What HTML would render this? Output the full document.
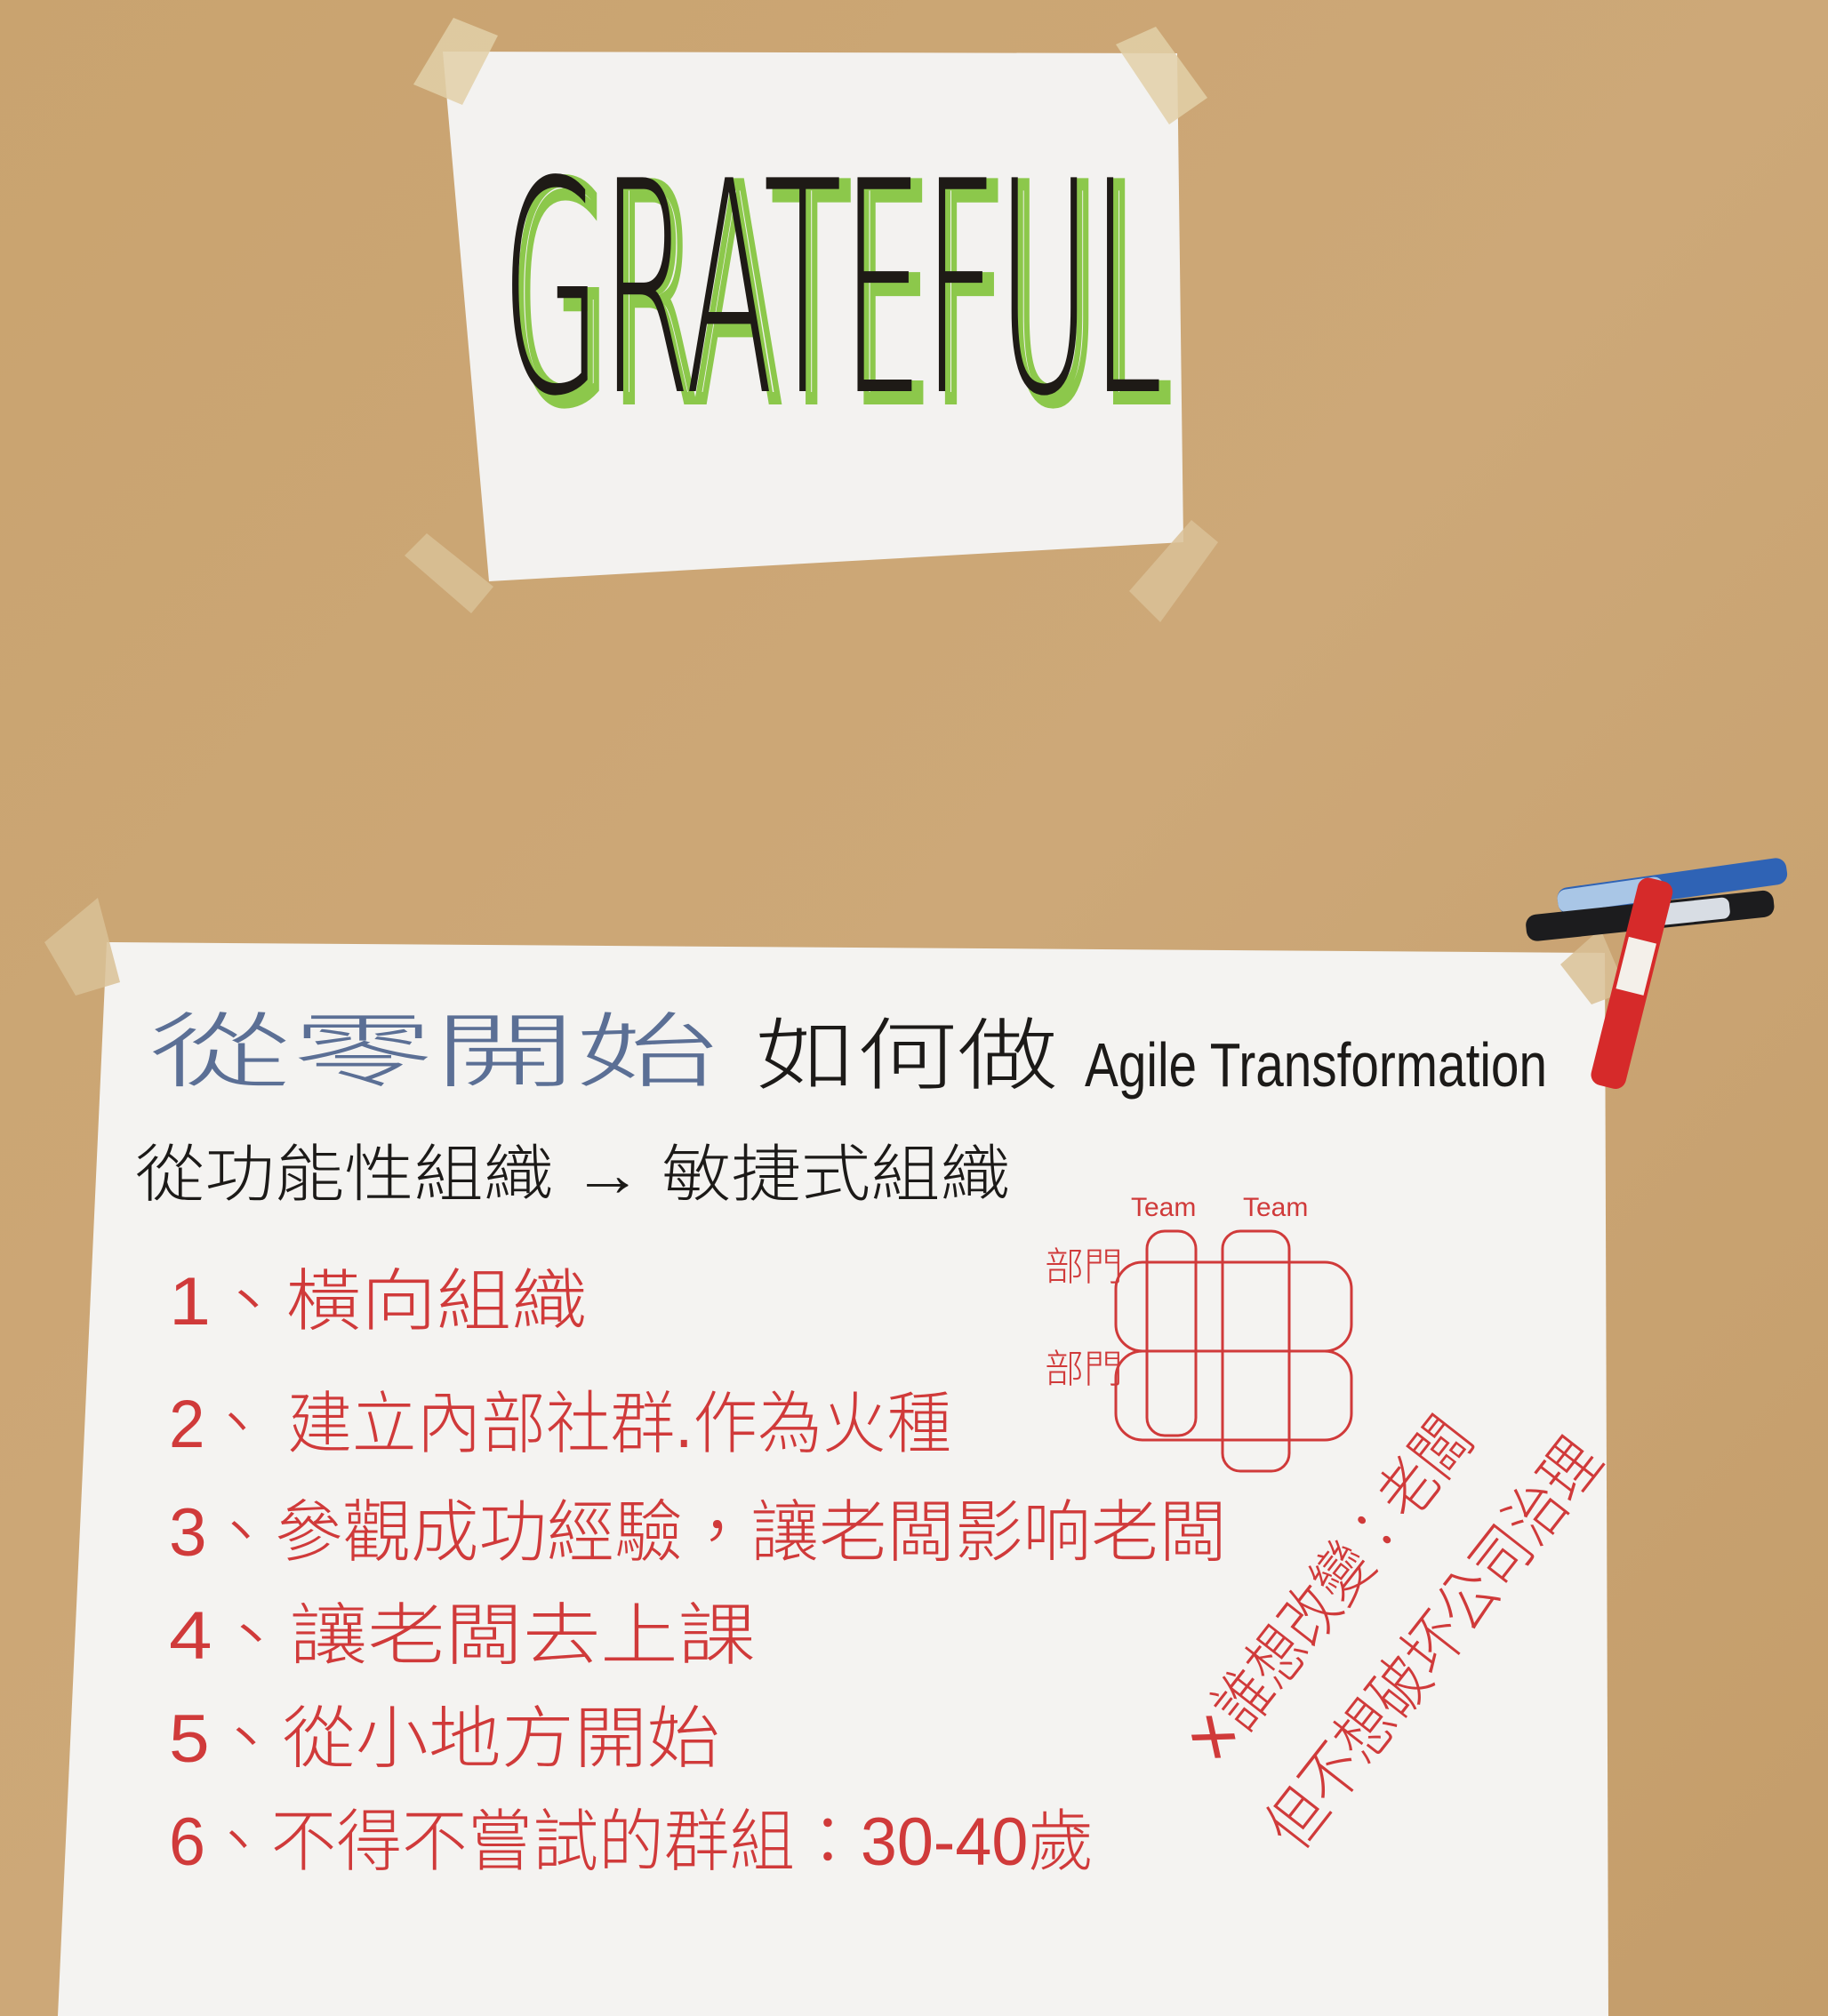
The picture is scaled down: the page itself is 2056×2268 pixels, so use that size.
<!DOCTYPE html>
<html><head><meta charset="utf-8">
<style>
html,body{margin:0;padding:0;background:#c7a170;}
svg{display:block}
.cjk{font-family:"Liberation Sans","Noto Sans CJK TC",sans-serif;font-weight:300;}
</style></head>
<body>
<svg width="2056" height="2268" viewBox="0 0 2056 2268" xmlns="http://www.w3.org/2000/svg">
  <defs>
    <linearGradient id="wall" x1="0" y1="0" x2="1" y2="1">
      <stop offset="0" stop-color="#c9a36f"/>
      <stop offset="0.5" stop-color="#cda878"/>
      <stop offset="1" stop-color="#c49d6a"/>
    </linearGradient>
  </defs>
  <rect width="2056" height="2268" fill="url(#wall)"/>

  <g>
    <polygon points="498,58 1324,60 1331,610 550,654" fill="#f3f2f0"/>
    <polygon points="465,95 510,20 560,40 520,118" fill="#e2d0a8" opacity="0.85"/>
    <polygon points="1255,50 1300,30 1358,110 1315,140" fill="#e2d0a8" opacity="0.85"/>
    <polygon points="455,625 480,600 555,660 530,690" fill="#d9c196" opacity="0.85"/>
    <polygon points="1270,665 1340,585 1370,610 1305,700" fill="#d9c196" opacity="0.85"/>
    <text x="574" y="448" font-family="DejaVu Sans, sans-serif" font-weight="200" font-size="330" fill="none" stroke="#8cc84b" stroke-width="14" textLength="744" lengthAdjust="spacingAndGlyphs">GRATEFUL</text>
    <text x="564" y="440" font-family="DejaVu Sans, sans-serif" font-weight="200" font-size="330" fill="#1e1a16" textLength="744" lengthAdjust="spacingAndGlyphs">GRATEFUL</text>
  </g>

  <g>
    <polygon points="120,1060 1805,1072 1809,2268 65,2268" fill="#f4f3f1"/>
    <polygon points="50,1060 110,1010 135,1105 85,1120" fill="#d9c196" opacity="0.85"/>
    <polygon points="1755,1085 1800,1045 1830,1115 1790,1130" fill="#d9c196" opacity="0.85"/>

    <text class="cjk" x="168" y="1215" font-size="92" fill="#5b6f95" textLength="640" lengthAdjust="spacingAndGlyphs">從零開始</text>
    <text class="cjk" x="850" y="1218" font-size="88" fill="#1c1a18" textLength="340" lengthAdjust="spacingAndGlyphs">如何做</text>
    <text x="1220" y="1222" font-family="Liberation Sans, sans-serif" font-size="70" fill="#1c1a18" textLength="520" lengthAdjust="spacingAndGlyphs">Agile Transformation</text>

    <text class="cjk" x="152" y="1345" font-size="70" fill="#1c1a18" textLength="984" lengthAdjust="spacingAndGlyphs">從功能性組織 → 敏捷式組織</text>

    <g fill="#d03a3a" class="cjk">
      <text x="190" y="1490" font-size="76" textLength="470" lengthAdjust="spacingAndGlyphs">1、橫向組織</text>
      <text x="190" y="1628" font-size="76" textLength="880" lengthAdjust="spacingAndGlyphs">2、 建立內部社群.作為火種</text>
      <text x="190" y="1750" font-size="76" textLength="1190" lengthAdjust="spacingAndGlyphs">3、參觀成功經驗，讓老闆影响老闆</text>
      <text x="190" y="1866" font-size="76" textLength="660" lengthAdjust="spacingAndGlyphs">4、讓老闆去上課</text>
      <text x="190" y="1982" font-size="76" textLength="620" lengthAdjust="spacingAndGlyphs">5、從小地方開始</text>
      <text x="190" y="2098" font-size="76" textLength="1040" lengthAdjust="spacingAndGlyphs">6、不得不嘗試的群組：30-40歲</text>
    </g>

    <g stroke="#d03a3a" stroke-width="3" fill="none">
      <rect x="1255" y="1420" width="265" height="100" rx="30"/>
      <rect x="1255" y="1520" width="265" height="100" rx="30"/>
      <rect x="1290" y="1385" width="55" height="230" rx="20"/>
      <rect x="1375" y="1385" width="75" height="270" rx="20"/>
    </g>
    <text class="cjk" x="1272" y="1368" font-size="30" fill="#d03a3a">Team</text>
    <text class="cjk" x="1398" y="1368" font-size="30" fill="#d03a3a">Team</text>
    <text class="cjk" x="1175" y="1440" font-size="44" fill="#d03a3a">部門</text>
    <text class="cjk" x="1175" y="1555" font-size="44" fill="#d03a3a">部門</text>

    <g class="cjk" fill="#d03a3a" font-size="72">
      <text transform="translate(1370,1990) rotate(-52)" textLength="470" lengthAdjust="spacingAndGlyphs">✕誰想改變：老闆</text>
      <text transform="translate(1460,2085) rotate(-52)" textLength="560" lengthAdjust="spacingAndGlyphs">但不想破坏公司治理</text>
    </g>
  </g>

  <g>
    <g transform="translate(1750,1000) rotate(-8)">
      <rect x="0" y="0" width="260" height="30" rx="12" fill="#2f63b5"/>
      <rect x="0" y="2" width="120" height="26" rx="10" fill="#a9c6e6"/>
    </g>
    <g transform="translate(1715,1030) rotate(-6)">
      <rect x="0" y="0" width="280" height="30" rx="12" fill="#1c1c1e"/>
      <rect x="130" y="3" width="100" height="24" rx="8" fill="#d8dde4"/>
    </g>
    <g transform="translate(1845,985) rotate(14)">
      <rect x="0" y="0" width="40" height="240" rx="12" fill="#d62a2a"/>
      <rect x="4" y="70" width="32" height="60" fill="#f4f0ea"/>
    </g>
  </g>
</svg>
</body></html>
